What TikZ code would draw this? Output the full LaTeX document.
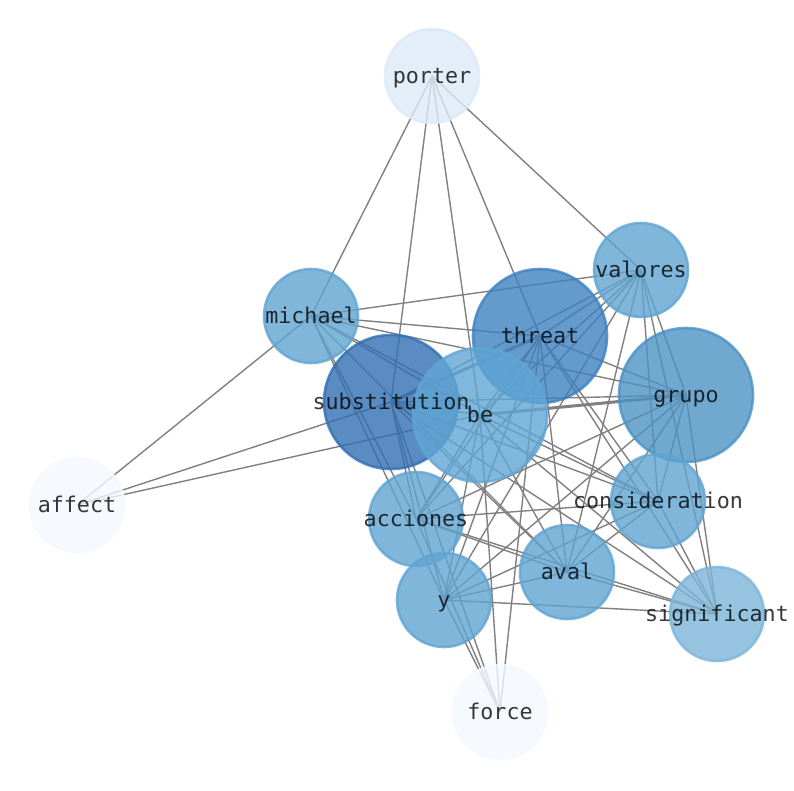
\documentclass[tikz,border=0pt]{standalone}
\usepackage{fontspec}
\setmonofont{DejaVu Sans Mono}
\pgfdeclarelayer{edges}
\pgfsetlayers{edges,main}
\definecolor{cmed}{RGB}{96,164,209}
\definecolor{csig}{RGB}{124,181,216}
\definecolor{cthr}{RGB}{61,129,191}
\definecolor{csub}{RGB}{49,111,179}
\definecolor{cgru}{RGB}{76,146,196}
\definecolor{cbe}{RGB}{96,166,212}
\definecolor{cpor}{RGB}{220,234,246}
\definecolor{cpal}{RGB}{244,249,254}
\definecolor{edgegray}{RGB}{128,128,128}
\tikzset{
  vtx/.style={circle, inner sep=0pt, fill=#1, draw=#1, line width=2.6pt, fill opacity=0.8, draw opacity=0.8},
  smallv/.style={minimum size=94pt},
  bigv/.style={minimum size=134pt},
  lab/.style={font=\ttfamily\fontsize{21.7}{26}\selectfont, text=black, text opacity=0.78, inner sep=0pt, anchor=base, yshift=-7.5pt},
  link/.style={draw=edgegray, line width=1.4pt},
  heavy/.style={draw=edgegray, line width=3pt}
}
\begin{document}
\begin{tikzpicture}[x=1pt,y=-1pt]
\useasboundingbox (0,0) rectangle (794,790);
% vertices (circles)
\node[vtx=cpor, smallv] (porter) at (432,76) {};
\node[vtx=cpal, smallv] (affect) at (77,505) {};
\node[vtx=cpal, smallv] (force) at (500,712) {};
\node[vtx=cmed, smallv] (michael) at (311,316) {};
\node[vtx=cmed, smallv] (valores) at (641,270) {};
\node[vtx=cgru, bigv] (grupo) at (686,395) {};
\node[vtx=cmed, smallv] (consideration) at (658,501) {};
\node[vtx=csig, smallv] (significant) at (717,614) {};
\node[vtx=cmed, smallv] (aval) at (567,572) {};
\node[vtx=cmed, smallv] (acciones) at (416,519) {};
\node[vtx=cmed, smallv] (y) at (444,600) {};
\node[vtx=csub, bigv] (substitution) at (391,402) {};
\node[vtx=cthr, bigv] (threat) at (540,336) {};
\node[vtx=cbe, bigv] (be) at (480,415) {};
% labels
\foreach \n in {porter,affect,force,michael,valores,grupo,consideration,significant,aval,acciones,y,substitution,threat,be}
  \node[lab] (lab-\n) at (\n) {\n};
% connectors
\begin{pgfonlayer}{edges}
\foreach \a/\b in {porter/michael, porter/substitution, porter/be, porter/threat, porter/valores,
  affect/michael, affect/substitution, affect/be,
  michael/valores, michael/threat, michael/grupo, michael/be, michael/consideration, michael/acciones, michael/y, michael/aval,
  valores/threat, valores/be, valores/substitution, valores/grupo, valores/consideration, valores/acciones, valores/y, valores/aval, valores/significant,
  threat/be, threat/grupo, threat/acciones, threat/y, threat/aval, threat/consideration, threat/significant, threat/force,
  substitution/be, substitution/grupo, substitution/consideration, substitution/acciones, substitution/y, substitution/aval, substitution/significant, substitution/force,
  be/consideration, be/acciones, be/y, be/aval, be/significant, be/force,
  grupo/acciones, grupo/y, grupo/aval, grupo/consideration, grupo/significant,
  consideration/acciones, consideration/y, consideration/aval, consideration/significant,
  acciones/aval, acciones/significant, acciones/force,
  aval/y, aval/significant,
  y/significant, y/force}
  \draw[link] (\a.center) -- (\b.center);
\draw[heavy] (substitution.center) -- (threat.center);
\draw[heavy] (be.center) -- (grupo.center);
\end{pgfonlayer}
\end{tikzpicture}
\end{document}
